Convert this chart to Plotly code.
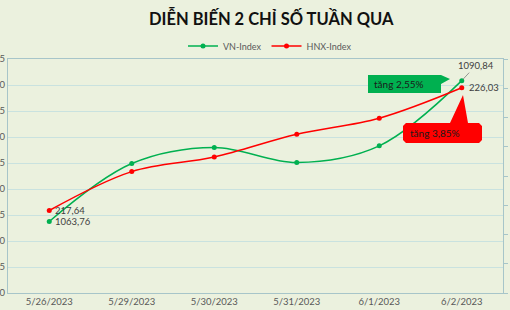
import plotly.graph_objects as go

dates = ["5/26/2023", "5/29/2023", "5/30/2023", "5/31/2023", "6/1/2023", "6/2/2023"]
vn_index = [1063.76, 1074.9, 1078.0, 1075.1, 1078.3, 1090.84]
hnx_index = [217.64, 220.3, 221.3, 222.85, 223.95, 226.03]
vn_ticks = [1050, 1055, 1060, 1065, 1070, 1075, 1080, 1085, 1090, 1095]
hnx_ticks = [212, 214, 216, 218, 220, 222, 224, 226, 228]

GREEN = "#00b050"
RED = "#ff0000"
BG = "#ebf1de"
GRID = "#c9e2df"
FRAME = "#a7c5c9"
TXT = "#595959"
FONT = "Lato"

W, H = 510, 310
L, R, T, B = 8, 7, 59, 17
pw, ph = W - L - R, H - T - B


def px(x):
    return (x - L) / pw


def py(y):
    return (H - B - y) / ph


fig = go.Figure()
fig.add_trace(go.Scatter(
    x=dates, y=vn_index, name="VN-Index", mode="lines+markers",
    line=dict(color=GREEN, width=1.5, shape="spline", smoothing=1.0),
    marker=dict(color=GREEN, size=5), yaxis="y"))
fig.add_trace(go.Scatter(
    x=dates, y=hnx_index, name="HNX-Index", mode="lines+markers",
    line=dict(color=RED, width=1.5, shape="spline", smoothing=1.0),
    marker=dict(color=RED, size=5), yaxis="y2"))

fmt = lambda v: f"{v:.2f}".replace(".", ",")
lab = dict(family=FONT, size=9.5, color="#404040")

annotations = [
    dict(text="<b>DIỄN BIẾN 2 CHỈ SỐ TUẦN QUA</b>", xref="paper", yref="paper",
         x=px(271), y=py(18), xanchor="center", yanchor="middle", showarrow=False,
         font=dict(family=FONT, size=16.5, color="#111111")),
    # data labels
    dict(text=fmt(vn_index[0]), x=dates[0], y=vn_index[0], xref="x", yref="y",
         xanchor="left", yanchor="middle", xshift=4, showarrow=False, font=lab),
    dict(text=fmt(hnx_index[0]), x=dates[0], y=hnx_index[0], xref="x", yref="y2",
         xanchor="left", yanchor="middle", xshift=4, showarrow=False, font=lab),
    dict(text=fmt(hnx_index[-1]), x=dates[-1], y=hnx_index[-1], xref="x", yref="y2",
         xanchor="left", yanchor="middle", xshift=5, showarrow=False, font=lab),
    dict(text=fmt(vn_index[-1]), x=dates[-1], y=vn_index[-1], xref="x", yref="y",
         showarrow=True, arrowhead=0, arrowwidth=0.8, arrowcolor="#7f7f7f",
         ax=14, ay=-15, standoff=2, font=lab),
    # callout texts
    dict(text="tăng 2,55%", xref="paper", yref="paper", x=px(372), y=py(84),
         xanchor="left", yanchor="middle", showarrow=False,
         font=dict(family=FONT, size=10, color="#1a1a1a")),
    dict(text="tăng 3,85%", xref="paper", yref="paper", x=px(408), y=py(133),
         xanchor="left", yanchor="middle", showarrow=False,
         font=dict(family=FONT, size=10, color="#1a1a1a")),
]

g = [(368, 75), (441, 75), (450, 79), (441, 84), (441, 93), (368, 93)]
green_path = "M " + " L ".join(f"{px(a):.5f},{py(b):.5f}" for a, b in g) + " Z"

r = [(406, 123), (450, 123), (463, 95), (468, 123), (479, 123), (482, 126),
     (482, 140), (479, 143), (406, 143), (403, 140), (403, 126)]
red_path = "M " + " L ".join(f"{px(a):.5f},{py(b):.5f}" for a, b in r) + " Z"

shapes = [
    dict(type="path", path=green_path, xref="paper", yref="paper",
         fillcolor=GREEN, line=dict(width=0), layer="above"),
    dict(type="path", path=red_path, xref="paper", yref="paper",
         fillcolor=RED, line=dict(width=0), layer="above"),
]

fig.update_layout(
    width=W, height=H,
    margin=dict(l=L, r=R, t=T, b=B, autoexpand=False),
    paper_bgcolor=BG, plot_bgcolor=BG,
    font=dict(family=FONT, size=9.5, color=TXT),
    showlegend=True,
    legend=dict(orientation="h", x=px(270), y=py(46), xanchor="center", yanchor="middle",
                font=dict(size=9, color=TXT), bgcolor="rgba(0,0,0,0)",
                itemwidth=30, tracegroupgap=0),
    xaxis=dict(type="category", range=[-0.5, len(dates) - 0.5], showline=True,
               linecolor=FRAME, linewidth=1, mirror=True,
               showgrid=False, ticks="", tickfont=dict(size=9.5, color=TXT), automargin=False),
    yaxis=dict(range=[1050, 1095], tickvals=vn_ticks, showline=True, linecolor=FRAME,
               linewidth=1, mirror=False, showgrid=True, gridcolor=GRID, gridwidth=1,
               zeroline=False, ticks="", tickfont=dict(size=9.5, color=TXT), automargin=False),
    yaxis2=dict(range=[212, 228], tickvals=hnx_ticks, overlaying="y", side="right",
                showline=True, linecolor=FRAME, linewidth=1, showgrid=False, zeroline=False,
                ticks="outside", ticklen=4, tickcolor=FRAME, showticklabels=False,
                automargin=False),
    annotations=annotations,
    shapes=shapes,
)

fig.write_html("out.html")
